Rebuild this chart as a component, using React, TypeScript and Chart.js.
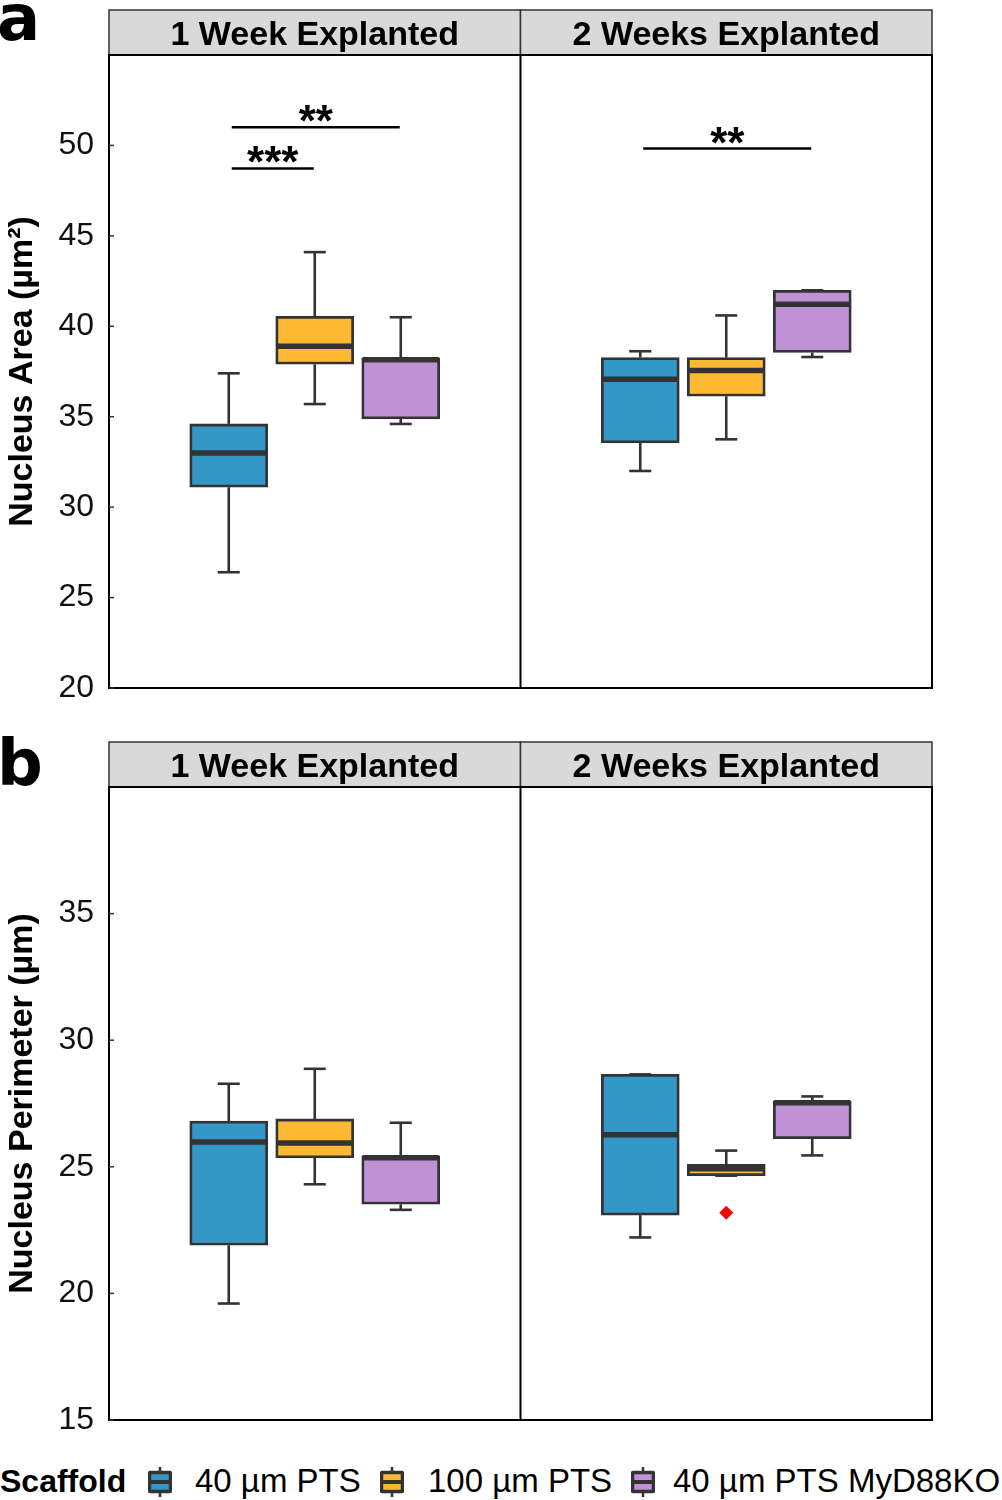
import React, { useEffect, useRef } from 'react';
import { Chart, registerables } from 'chart.js';

Chart.register(...registerables);

// ---------------- data ----------------
const FACETS = ['1 Week Explanted', '2 Weeks Explanted'];
const SCAFFOLDS = ['40 µm PTS', '100 µm PTS', '40 µm PTS MyD88KO'];
const LEGEND_TITLE = 'Scaffold';

// [lower whisker, Q1, median, Q3, upper whisker] for [1 week, 2 weeks]
const AREA_40 = [[26.4, 31.1, 33.0, 34.6, 37.4], [32.0, 33.55, 37.07, 38.27, 38.62]];
const AREA_100 = [[35.7, 37.9, 38.9, 40.55, 44.1], [33.75, 36.13, 37.55, 38.27, 40.6]];
const AREA_KO = [[34.6, 34.88, 38.15, 38.25, 40.5], [38.3, 38.55, 41.22, 41.99, 41.99]];

const PERIM_40 = [[19.6, 21.9, 25.98, 26.81, 28.28], [22.21, 23.09, 26.27, 28.65, 28.65]];
const PERIM_100 = [[24.31, 25.35, 25.94, 26.89, 28.87], [24.65, 24.65, 24.92, 25.1, 25.64]];
const PERIM_KO = [[23.3, 23.52, 25.36, 25.43, 26.74], [25.45, 26.11, 27.53, 27.61, 27.78]];

// outliers: facet index, scaffold index, value
const PERIM_OUTLIER_FACET = [1];
const PERIM_OUTLIER_SCAFFOLD = [1];
const PERIM_OUTLIER_VALUE = [23.19];

const AREA_TICKS = [20, 25, 30, 35, 40, 45, 50];
const PERIM_TICKS = [15, 20, 25, 30, 35];

// significance brackets (panel a)
const AREA_SIG_FACET = [0, 0, 1];
const AREA_SIG_FROM = [0, 0, 0];
const AREA_SIG_TO = [1, 2, 2];
const AREA_SIG_Y = [48.73, 51.0, 49.83];
const AREA_SIG_LABEL = ['***', '**', '**'];

// ---------------- styling ----------------
const COLORS = ['#3397C8', '#FDB933', '#C191D6'];
const FONT = '"Liberation Sans", Arial, Helvetica, sans-serif';
const DODGE = 0.209;
const BOX_W = 78;

function xPos(facet: number, scaffold: number) {
  return facet + 0.5 + (scaffold - 1) * DODGE;
}

function line(ctx: CanvasRenderingContext2D, x1: number, y1: number, x2: number, y2: number) {
  ctx.beginPath();
  ctx.moveTo(x1, y1);
  ctx.lineTo(x2, y2);
  ctx.stroke();
}

const boxPlugin = {
  id: 'boxParts',
  afterDatasetsDraw(chart: any) {
    const { ctx } = chart;
    const x = chart.scales.x;
    const y = chart.scales.y;
    ctx.save();
    ctx.strokeStyle = '#333333';
    ctx.lineCap = 'butt';
    chart.data.datasets.forEach((ds: any, i: number) => {
      if (!ds.summaries) return;
      ds.summaries.forEach((s: number[], f: number) => {
        const px = x.getPixelForValue(xPos(f, i));
        const [lo, q1, med, q3, hi] = s.map((v) => y.getPixelForValue(v));
        ctx.lineWidth = 2.6;
        line(ctx, px, q3, px, hi);
        line(ctx, px, q1, px, lo);
        line(ctx, px - 11, hi, px + 11, hi);
        line(ctx, px - 11, lo, px + 11, lo);
        ctx.lineWidth = 5.5;
        line(ctx, px - BOX_W / 2 + 1, med, px + BOX_W / 2 - 1, med);
      });
    });
    ctx.restore();
  },
};

const framePlugin = {
  id: 'frame',
  afterDraw(chart: any, _args: any, opts: any) {
    const { ctx, chartArea } = chart;
    const { left, right, top, bottom } = chartArea;
    const x = chart.scales.x;
    const y = chart.scales.y;
    ctx.save();
    // strips
    FACETS.forEach((name, f) => {
      const x0 = x.getPixelForValue(f);
      const x1 = x.getPixelForValue(f + 1);
      ctx.fillStyle = '#D9D9D9';
      ctx.fillRect(x0, top - 45, x1 - x0, 45);
      ctx.strokeStyle = '#333333';
      ctx.lineWidth = 1.5;
      ctx.strokeRect(x0, top - 45, x1 - x0, 45);
      ctx.fillStyle = '#000';
      ctx.font = `bold 34px ${FONT}`;
      ctx.textAlign = 'center';
      ctx.textBaseline = 'alphabetic';
      ctx.fillText(name, (x0 + x1) / 2, top - 10);
    });
    // panel borders
    ctx.strokeStyle = '#000';
    ctx.lineWidth = 2;
    ctx.strokeRect(left, top, right - left, bottom - top);
    const mid = x.getPixelForValue(1);
    line(ctx, mid, top, mid, bottom);
    // inward ticks
    ctx.strokeStyle = '#333333';
    ctx.lineWidth = 1.5;
    (opts.ticks as number[]).forEach((v) => {
      const py = y.getPixelForValue(v);
      line(ctx, left, py, left + 5, py);
    });
    // significance
    if (opts.sig) {
      const s = opts.sig;
      s.facet.forEach((f: number, k: number) => {
        const xa = x.getPixelForValue(xPos(f, s.from[k])) + 3;
        const xb = x.getPixelForValue(xPos(f, s.to[k])) - 1;
        const py = y.getPixelForValue(s.y[k]);
        ctx.strokeStyle = '#000';
        ctx.lineWidth = 2.5;
        line(ctx, xa, py, xb, py);
        ctx.fillStyle = '#000';
        ctx.font = `bold 44px ${FONT}`;
        ctx.textAlign = 'center';
        ctx.textBaseline = 'alphabetic';
        ctx.fillText(s.label[k], (xa + xb) / 2, py + 9);
      });
    }
    // panel letter
    ctx.fillStyle = '#000';
    ctx.font = `bold 64px "DejaVu Sans", sans-serif`;
    ctx.textAlign = 'left';
    ctx.textBaseline = 'alphabetic';
    ctx.fillText(opts.letter, -3, opts.letterY);
    ctx.restore();
  },
};

interface PanelCfg {
  summaries: number[][][];
  min: number;
  max: number;
  ticks: number[];
  title: string;
  letter: string;
  letterY: number;
  padTop: number;
  padBottom: number;
  height: number;
  sig?: any;
  outFacet?: number[];
  outScaffold?: number[];
  outValue?: number[];
}

function buildConfig(cfg: PanelCfg): any {
  const datasets: any[] = cfg.summaries.map((s, i) => ({
    type: 'bar',
    label: SCAFFOLDS[i],
    data: s.map((v, f) => ({ x: xPos(f, i), y: [v[1], v[3]] })),
    summaries: s,
    backgroundColor: COLORS[i],
    borderColor: '#333333',
    borderWidth: 2.8,
    borderSkipped: false,
    barThickness: BOX_W,
    grouped: false,
  }));
  if (cfg.outValue) {
    datasets.push({
      type: 'scatter',
      label: 'outliers',
      data: cfg.outValue.map((v, k) => ({ x: xPos(cfg.outFacet![k], cfg.outScaffold![k]), y: v })),
      pointStyle: 'rectRot',
      radius: 7,
      backgroundColor: '#FF0000',
      borderWidth: 0,
    });
  }
  return {
    type: 'bar',
    data: { datasets },
    options: {
      responsive: false,
      animation: false,
      devicePixelRatio: 1,
      layout: { padding: { top: cfg.padTop, bottom: cfg.padBottom, left: 0, right: 70 } },
      plugins: {
        legend: { display: false },
        tooltip: { enabled: false },
        frame: { ticks: cfg.ticks, sig: cfg.sig, letter: cfg.letter, letterY: cfg.letterY },
      },
      scales: {
        x: { type: 'linear', min: 0, max: 2, display: false, offset: false },
        y: {
          type: 'linear',
          min: cfg.min,
          max: cfg.max,
          afterBuildTicks: (s: any) => {
            s.ticks = cfg.ticks.map((v) => ({ value: v }));
          },
          afterFit: (s: any) => {
            s.width = 109;
          },
          grid: { display: false, drawTicks: false },
          border: { display: false },
          ticks: { font: { family: FONT, size: 32, lineHeight: 0.8 }, color: '#111', padding: 15, autoSkip: false },
          title: {
            display: true,
            text: cfg.title,
            color: '#000',
            font: { family: FONT, size: 34, weight: 'bold' },
            padding: { top: 2, bottom: 0 },
          },
        },
      },
    },
    plugins: [boxPlugin, framePlugin],
  };
}

function Panel({ cfg, top }: { cfg: PanelCfg; top: number }) {
  const ref = useRef<HTMLCanvasElement>(null);
  useEffect(() => {
    const chart = new Chart(ref.current as HTMLCanvasElement, buildConfig(cfg));
    return () => chart.destroy();
  }, []);
  return (
    <canvas
      ref={ref}
      width={1002}
      height={cfg.height}
      style={{ position: 'absolute', left: 0, top, width: 1002, height: cfg.height, display: 'block' }}
    />
  );
}

function LegendKey({ color, left }: { color: string; left: number }) {
  return (
    <svg width={24} height={30} style={{ position: 'absolute', left, top: 1467 }}>
      <line x1={12} y1={0} x2={12} y2={6} stroke="#333" strokeWidth={2.5} />
      <line x1={12} y1={24} x2={12} y2={30} stroke="#333" strokeWidth={2.5} />
      <rect x={1.5} y={5.5} width={21} height={19} fill={color} stroke="#333" strokeWidth={3.5} rx={1} />
      <line x1={2} y1={15} x2={22} y2={15} stroke="#333" strokeWidth={4} />
    </svg>
  );
}

const textStyle: any = {
  position: 'absolute',
  top: 1465,
  fontFamily: FONT,
  fontSize: 33,
  lineHeight: '32px',
  color: '#000',
  whiteSpace: 'nowrap',
};

export default function App() {
  const areaCfg: PanelCfg = {
    summaries: [AREA_40, AREA_100, AREA_KO],
    min: 20,
    max: 55,
    ticks: AREA_TICKS,
    title: 'Nucleus Area (µm²)',
    letter: 'a',
    letterY: 40,
    padTop: 55,
    padBottom: 32,
    height: 720,
    sig: { facet: AREA_SIG_FACET, from: AREA_SIG_FROM, to: AREA_SIG_TO, y: AREA_SIG_Y, label: AREA_SIG_LABEL },
  };
  const perimCfg: PanelCfg = {
    summaries: [PERIM_40, PERIM_100, PERIM_KO],
    min: 15,
    max: 40,
    ticks: PERIM_TICKS,
    title: 'Nucleus Perimeter (µm)',
    letter: 'b',
    letterY: 65,
    padTop: 67,
    padBottom: 30,
    height: 730,
    outFacet: PERIM_OUTLIER_FACET,
    outScaffold: PERIM_OUTLIER_SCAFFOLD,
    outValue: PERIM_OUTLIER_VALUE,
  };
  const keyLefts = [148, 380, 631];
  const textLefts = [195, 428, 673];
  return (
    <div style={{ position: 'absolute', left: 0, top: 0, width: 1002, height: 1500, background: '#fff', overflow: 'hidden' }}>
      <Panel cfg={areaCfg} top={0} />
      <Panel cfg={perimCfg} top={720} />
      <span style={{ ...textStyle, left: 0, fontWeight: 'bold', fontSize: 32 }}>{LEGEND_TITLE}</span>
      {SCAFFOLDS.map((s, i) => (
        <React.Fragment key={s}>
          <LegendKey color={COLORS[i]} left={keyLefts[i]} />
          <span style={{ ...textStyle, left: textLefts[i] }}>{s}</span>
        </React.Fragment>
      ))}
    </div>
  );
}
